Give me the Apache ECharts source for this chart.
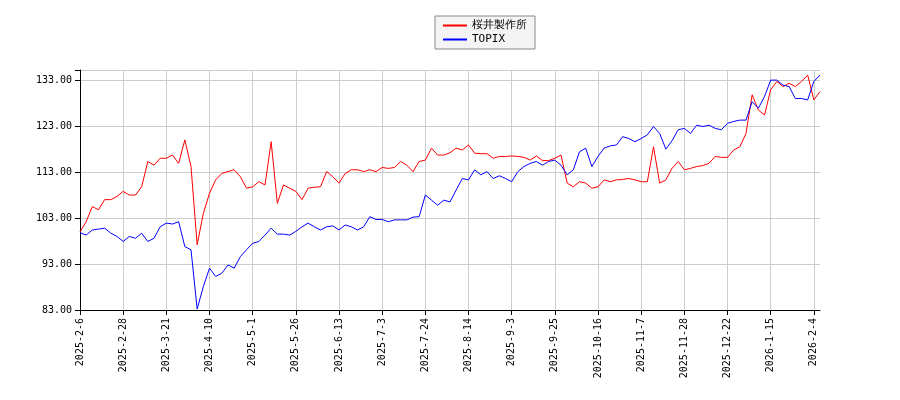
<!DOCTYPE html>
<html lang="ja" style="height: 100%">
<head>
  <meta charset="utf-8">
</head>
<body style="height: 100%; margin: 0; background: #fff">
  <div id="container" style="width: 900px; height: 400px"></div>
  <script type="text/javascript" src="https://cdn.jsdelivr.net/npm/echarts@6/dist/echarts.min.js"></script>
  <script type="text/javascript">
    // one label every 7 points
    var tickLabels = ['2025-2-6', '2025-2-28', '2025-3-21', '2025-4-10', '2025-5-1', '2025-5-26',
      '2025-6-13', '2025-7-3', '2025-7-24', '2025-8-14', '2025-9-3', '2025-9-25', '2025-10-16',
      '2025-11-7', '2025-11-28', '2025-12-22', '2026-1-15', '2026-2-4'];

    var sakurai = [100.0, 102.2, 105.5, 104.8, 107, 107, 107.7, 108.8, 108, 108, 109.8, 115.3, 114.5, 116,
      116, 116.7, 114.9, 120, 114.2, 97.2, 104, 108.4, 111.3, 112.7, 113.1, 113.5, 112, 109.5,
      109.8, 110.9, 110.2, 119.6, 106.2, 110.2, 109.5, 108.8, 107, 109.5, 109.7, 109.8, 113.1, 112,
      110.6, 112.7, 113.5, 113.5, 113.1, 113.5, 113.1, 114, 113.8, 114, 115.3, 114.5, 113.1, 115.3,
      115.6, 118.2, 116.7, 116.7, 117.2, 118.2, 117.8, 118.9, 117.1, 117, 117, 116, 116.4, 116.4,
      116.5, 116.4, 116.2, 115.6, 116.5, 115.5, 115.5, 116, 116.7, 110.6, 109.8, 110.9, 110.6, 109.5,
      109.8, 111.3, 110.9, 111.3, 111.4, 111.6, 111.3, 110.9, 110.9, 118.5, 110.6, 111.3, 113.8, 115.3,
      113.5, 113.8, 114.2, 114.4, 114.9, 116.4, 116.2, 116.2, 117.8, 118.5, 121.4, 129.8, 126.5, 125.4,
      130.9, 132.7, 131.6, 132.3, 131.6, 132.7, 134.1, 128.7, 130.5];

    var topix = [99.8, 99.3, 100.4, 100.6, 100.8, 99.7, 99, 97.9, 99, 98.6, 99.7, 97.9, 98.6, 101.1,
      101.9, 101.7, 102.2, 96.8, 96.1, 83.2, 88.1, 92.1, 90.3, 91, 92.8, 92.1, 94.6, 96.1,
      97.5, 97.9, 99.3, 100.8, 99.5, 99.5, 99.3, 100.1, 101.1, 101.9, 101.1, 100.4, 101.1, 101.3,
      100.4, 101.5, 101.1, 100.4, 101.1, 103.3, 102.7, 102.7, 102.2, 102.6, 102.6, 102.6, 103.2, 103.3,
      108, 106.9, 105.8, 106.9, 106.5, 109.1, 111.6, 111.3, 113.5, 112.4, 113.1, 111.6, 112.2, 111.6,
      110.9, 113.1, 114.2, 114.9, 115.3, 114.5, 115.3, 115.6, 114.5, 112.4, 113.5, 117.4, 118.2, 114.2,
      116.4, 118.2, 118.7, 118.9, 120.7, 120.3, 119.6, 120.3, 121.1, 122.9, 121.4, 118, 119.8, 122.2,
      122.5, 121.4, 123.2, 122.9, 123.2, 122.5, 122.2, 123.6, 124, 124.3, 124.3, 128.3, 126.9, 129.4,
      133, 133, 131.9, 131.6, 129, 129, 128.7, 132.7, 134.1];

    var idx = sakurai.map(function (v, i) { return String(i); });

    var myChart = echarts.init(document.getElementById('container'), null, { renderer: 'canvas' });
    var option = {
      animation: false,
      backgroundColor: '#fff',
      legend: {
        top: 16,
        left: 435,
        orient: 'vertical',
        backgroundColor: '#f4f4f4',
        borderColor: '#888',
        borderWidth: 1,
        borderRadius: 0,
        padding: [4, 8],
        itemGap: 3,
        itemWidth: 24,
        itemHeight: 2,
        icon: 'rect',
        textStyle: { fontFamily: 'DejaVu Sans Mono', fontSize: 11, color: '#000' },
        data: ['桜井製作所', 'TOPIX']
      },
      grid: { left: 80, right: 80, top: 70, bottom: 90 },
      xAxis: {
        type: 'category',
        boundaryGap: false,
        data: idx,
        axisLine: { lineStyle: { color: '#000' } },
        axisTick: { interval: function (i) { return i % 7 === 0; }, lineStyle: { color: '#000' } },
        axisLabel: {
          interval: function (i) { return i % 7 === 0; },
          rotate: 90,
          fontFamily: 'DejaVu Sans Mono',
          fontSize: 10,
          color: '#000',
          formatter: function (v) { return tickLabels[Number(v) / 7] || ''; }
        },
        splitLine: { show: true, interval: function (i) { return i % 7 === 0; }, lineStyle: { color: '#ccc' } }
      },
      yAxis: {
        type: 'value',
        min: 83,
        max: 135.2,
        interval: 10,
        axisLine: { show: true, lineStyle: { color: '#000' } },
        axisTick: { show: true },
        axisLabel: {
          fontFamily: 'DejaVu Sans Mono', fontSize: 10, color: '#000',
          formatter: function (v) { return v > 134 ? '' : v.toFixed(2); }
        },
        splitLine: { lineStyle: { color: '#ccc' } }
      },
      series: [
        { name: '桜井製作所', type: 'line', data: sakurai, symbol: 'none', lineStyle: { color: '#ff0000', width: 1 }, itemStyle: { color: '#ff0000' } },
        { name: 'TOPIX', type: 'line', data: topix, symbol: 'none', lineStyle: { color: '#0000ff', width: 1 }, itemStyle: { color: '#0000ff' } }
      ]
    };
    myChart.setOption(option);
  </script>
</body>
</html>
